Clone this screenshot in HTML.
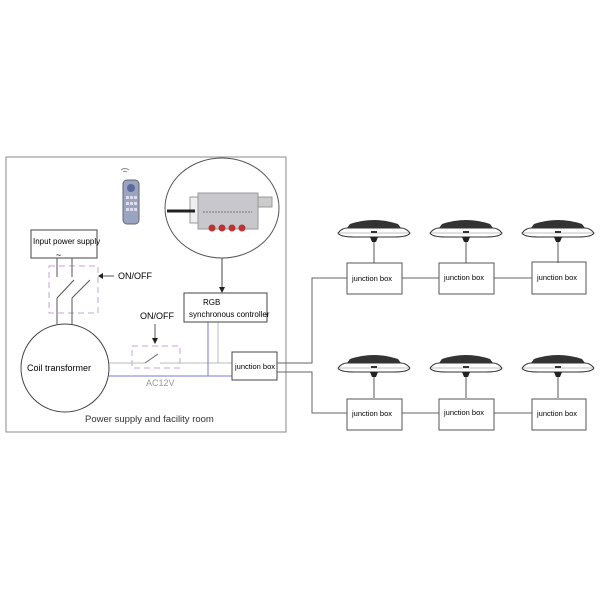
<!DOCTYPE html>
<html><head><style>body{margin:0;background:#fff}</style></head><body>
<svg width="600" height="600" viewBox="0 0 600 600" xmlns="http://www.w3.org/2000/svg" font-family="Liberation Sans, sans-serif">
<rect width="600" height="600" fill="#fff"/>
<rect x="6" y="157" width="280" height="275" fill="none" stroke="#888" stroke-width="1"/>
<path d="M121 170 q4 -3 8 0 M123 172 q2 -1.5 4 0" stroke="#888" fill="none"/>
<rect x="123" y="180" width="16" height="44" rx="4" fill="#9aa4c0" stroke="#667"/>
<circle cx="131" cy="188" r="4" fill="#5a6a9a"/>
<g fill="#dde">
<rect x="126" y="196" width="3" height="3"/><rect x="130" y="196" width="3" height="3"/><rect x="134" y="196" width="3" height="3"/>
<rect x="126" y="202" width="3" height="3"/><rect x="130" y="202" width="3" height="3"/><rect x="134" y="202" width="3" height="3"/>
<rect x="126" y="208" width="3" height="3"/><rect x="130" y="208" width="3" height="3"/><rect x="134" y="208" width="3" height="3"/>
</g>
<ellipse cx="222" cy="208" rx="57" ry="50" fill="#fff" stroke="#555"/>
<rect x="190" y="197" width="10" height="26" fill="#eee" stroke="#999"/>
<rect x="258" y="197" width="14" height="10" fill="#ccc" stroke="#999"/>
<rect x="198" y="193" width="60" height="36" fill="#c8c8cc" stroke="#999"/>
<line x1="167" y1="211" x2="195" y2="211" stroke="#222" stroke-width="3"/>
<line x1="203" y1="212" x2="252" y2="212" stroke="#777" stroke-dasharray="2 1"/>
<circle cx="212" cy="228" r="3.5" fill="#b33"/><circle cx="222" cy="228" r="3.5" fill="#b33"/><circle cx="232" cy="228" r="3.5" fill="#b33"/><circle cx="242" cy="228" r="3.5" fill="#b33"/>
<line x1="222" y1="258" x2="222" y2="290" stroke="#444"/>
<path d="M219 287 L222 293 L225 287Z" fill="#222"/>
<rect x="31" y="230" width="66" height="28" fill="#fff" stroke="#444"/>
<text x="33" y="244" font-size="8">Input power supply</text>
<text x="56" y="258" font-size="9">~</text>
<rect x="49" y="266" width="49" height="47" fill="none" stroke="#c9a0d8" stroke-dasharray="6 4"/>
<g stroke="#555" fill="none">
<line x1="57" y1="258" x2="57" y2="277"/><line x1="72" y1="258" x2="72" y2="277"/>
<line x1="57" y1="298" x2="74" y2="280"/><line x1="72" y1="298" x2="90" y2="280"/>
<line x1="57" y1="298" x2="57" y2="324"/><line x1="72" y1="298" x2="72" y2="324"/>
<line x1="100" y1="276" x2="114" y2="276"/>
<line x1="155" y1="324" x2="155" y2="340"/>
</g>
<path d="M98 276 L103 273 L103 279Z" fill="#222"/>
<path d="M152 338 L155 344 L158 338Z" fill="#222"/>
<text x="118" y="279" font-size="9">ON/OFF</text>
<text x="140" y="319" font-size="9">ON/OFF</text>
<circle cx="65" cy="368" r="44" fill="#fff" stroke="#444"/>
<text x="27" y="371" font-size="9">Coil transformer</text>
<rect x="132" y="346" width="48" height="22" fill="none" stroke="#c9a0d8" stroke-dasharray="6 4"/>
<line x1="109" y1="363" x2="145" y2="363" stroke="#bbb"/>
<line x1="145" y1="363" x2="158" y2="354" stroke="#666"/>
<line x1="160" y1="363" x2="232" y2="363" stroke="#bbb"/>
<line x1="109" y1="376" x2="232" y2="376" stroke="#7a7ad8"/>
<line x1="208" y1="322" x2="208" y2="376" stroke="#7a7ad8"/>
<line x1="218" y1="322" x2="218" y2="363" stroke="#bbb"/>
<text x="146" y="386" font-size="9" fill="#999">AC12V</text>
<rect x="184" y="293" width="83" height="29" fill="#fff" stroke="#444"/>
<text x="203" y="305" font-size="8">RGB</text>
<text x="189" y="317" font-size="8">synchronous controller</text>
<rect x="232" y="352" width="45" height="28" fill="#fff" stroke="#444"/>
<text x="235" y="369" font-size="7.5">junction box</text>
<text x="85" y="422" font-size="9.5" fill="#333">Power supply and facility room</text>
<g stroke="#666" fill="none">
<polyline points="277,363 312,363 312,278 347,278"/>
<polyline points="277,372 312,372 312,413 347,413"/>
<line x1="402" y1="278" x2="439" y2="278"/><line x1="494" y1="278" x2="532" y2="278"/>
<line x1="402" y1="413" x2="439" y2="413"/><line x1="494" y1="413" x2="532" y2="413"/>
</g>
<g stroke="#555">
<rect x="347" y="263" width="55" height="31" fill="#fff"/>
<rect x="439" y="263" width="55" height="31" fill="#fff"/>
<rect x="532" y="262" width="54" height="32" fill="#fff"/>
<rect x="347" y="399" width="55" height="31" fill="#fff"/>
<rect x="439" y="399" width="55" height="31" fill="#fff"/>
<rect x="532" y="399" width="54" height="31" fill="#fff"/>
</g>
<g font-size="7.5">
<text x="352" y="281">junction box</text><text x="444" y="280">junction box</text><text x="537" y="280">junction box</text>
<text x="352" y="416">junction box</text><text x="444" y="415">junction box</text><text x="537" y="416">junction box</text>
</g>
<defs>
<g id="lamp">
<line x1="0" y1="16" x2="0" y2="39" stroke="#555"/>
<path d="M-24 0 Q0 -8 24 0 L27 4 L-27 4Z" fill="#333"/>
<path d="M-36 9 Q-32 4 -27 4 L27 4 Q32 4 36 9 Q34 13 20 13 L-20 13 Q-34 13 -36 9Z" fill="#fff" stroke="#333"/>
<path d="M-35 9 L35 9" stroke="#888" stroke-width="0.6"/>
<rect x="-3" y="7" width="6" height="2" fill="#333"/>
<path d="M-4 13 L4 13 L2 18 L-2 18Z" fill="#222"/>
</g>
</defs>
<use href="#lamp" x="374" y="224"/><use href="#lamp" x="466" y="224"/><use href="#lamp" x="558" y="224"/>
<use href="#lamp" x="374" y="359"/><use href="#lamp" x="466" y="359"/><use href="#lamp" x="558" y="359"/>
</svg>
</body></html>
